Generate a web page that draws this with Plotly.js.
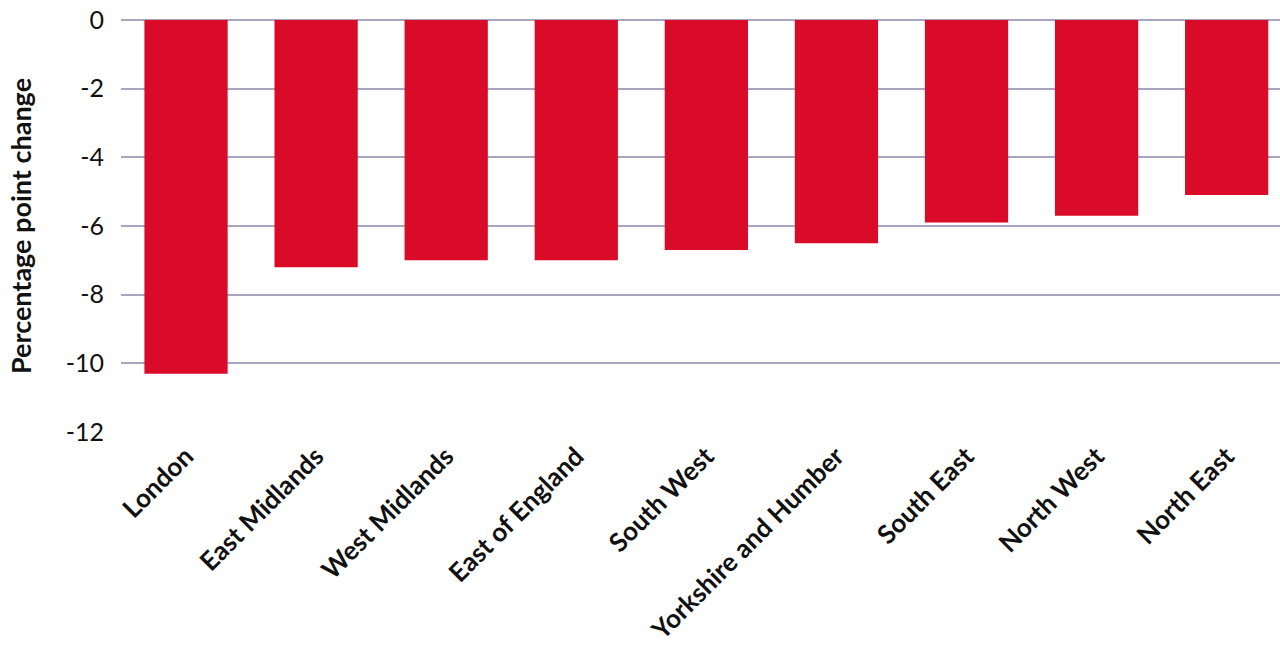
<!DOCTYPE html>
<html>
<head>
<meta charset="utf-8">
<script src="https://cdn.plot.ly/plotly-3.0.1.min.js"></script>
<style>html,body{margin:0;padding:0;background:#fff;}#chart{width:1280px;height:651px;}</style>
</head>
<body>
<div id="chart"></div>
<script>
const regions = ["London","East Midlands","West Midlands","East of England","South West","Yorkshire and Humber","South East","North West","North East"];
const changes = [-10.3,-7.2,-7.0,-7.0,-6.7,-6.5,-5.9,-5.7,-5.1];
const yTicks = [0,-2,-4,-6,-8,-10,-12];

const trace = {
  type: 'bar',
  x: regions,
  y: changes,
  marker: {color: '#d90b28'},
  hoverinfo: 'x+y'
};
const layout = {
  width: 1280, height: 651,
  margin: {l: 121, r: 0, t: 20, b: 219},
  paper_bgcolor: '#fff', plot_bgcolor: '#fff',
  bargap: 0.36,
  showlegend: false,
  font: {family: 'Lato, "Open Sans", sans-serif', color: '#111'},
  xaxis: {
    type: 'category',
    automargin: false,
    range: [-0.5, 8.41],
    tickangle: -45,
    tickfont: {size: 26, family: 'Lato, sans-serif', weight: 'bold', color: '#111'},
    showgrid: false, zeroline: false, showline: false, ticks: '', ticklabelstandoff: 3
  },
  yaxis: {
    automargin: false,
    range: [-12, 0],
    tickvals: yTicks,
    ticktext: yTicks.map(String),
    tickfont: {size: 25, family: 'Lato, sans-serif', color: '#111'},
    showgrid: true, gridcolor: '#a7a5c0', gridwidth: 2,
    zeroline: true, zerolinecolor: '#a7a5c0', zerolinewidth: 2,
    showline: false, ticks: '', ticklabelstandoff: 16,
    title: {text: 'Percentage point change', font: {size: 27, family: 'Lato, sans-serif', weight: 'bold', color: '#111'}, standoff: 26}
  }
};
Plotly.newPlot('chart', [trace], layout, {displayModeBar: false, staticPlot: true});
</script>
</body>
</html>
